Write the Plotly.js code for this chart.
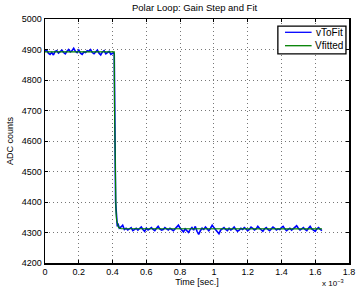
<!DOCTYPE html>
<html><head><meta charset="utf-8">
<script src="https://cdn.plot.ly/plotly-3.0.1.min.js"></script>
<style>html,body{margin:0;padding:0;background:#fff}#c{width:357px;height:289px}</style>
</head><body><div id="c"></div>
<script>
// time in units of 1e-3 s
const highStart = 0.0, lowStart = 0.45, dt = 0.01;
const highValues = [4894,4898,4888,4884,4890,4882,4894,4896,4888,4892,4898,4890,4886,4894,4900,4892,4896,4904,4894,4890,4898,4888,4884,4892,4890,4896,4894,4900,4890,4886,4894,4898,4888,4882,4892,4896,4886,4890,4894,4884,4888];
const stepTimes = [0.405,0.41,0.412,0.414,0.416,0.418,0.42,0.424,0.428,0.432,0.436,0.44];
const stepValues = [4889,4885,4690,4540,4480,4400,4385,4345,4320,4330,4316,4314];
const lowValues = [
4318,4324,4310,4314,4308,4312,4316,4306,4310,4314,
4308,4312,4318,4310,4304,4314,4308,4312,4316,4310,
4306,4314,4320,4312,4308,4310,4316,4312,4308,4314,
4310,4306,4312,4318,4324,4314,4308,4302,4312,4306,
4300,4310,4316,4308,4320,4304,4294,4306,4314,4310,
4318,4312,4306,4314,4324,4316,4308,4302,4296,4308,
4312,4316,4310,4306,4314,4308,4312,4318,4310,4304,
4308,4314,4310,4316,4312,4306,4310,4318,4314,4308,
4312,4320,4314,4308,4304,4312,4316,4310,4306,4312,
4318,4314,4308,4312,4310,4316,4320,4312,4306,4310,
4314,4308,4312,4318,4322,4314,4308,4312,4316,4310,
4306,4314,4320,4312,4308,4304,4312,4316,4310,4306];
const fitTimes = [0,0.41,0.412,0.414,0.416,0.418,0.42,0.424,0.428,0.434,0.44,0.45,1.64];
const fitValues = [4892,4892,4700,4560,4470,4410,4375,4340,4326,4318,4315,4313,4312];
const xTicks = [0,0.2,0.4,0.6,0.8,1,1.2,1.4,1.6,1.8];
const yTicks = [4200,4300,4400,4500,4600,4700,4800,4900,5000];
const seriesNames = ['vToFit','Vfitted'];
const seriesColors = ['#0000ff','#008000'];

const tX = [], tY = [];
highValues.forEach((v,i)=>{tX.push(+(highStart+i*dt).toFixed(4)); tY.push(v);});
stepTimes.forEach((t,i)=>{tX.push(t); tY.push(stepValues[i]);});
lowValues.forEach((v,i)=>{tX.push(+(lowStart+i*dt).toFixed(4)); tY.push(v);});

const FAM = 'Liberation Sans, Arial, sans-serif';
const font = {family:FAM, size:9, color:'#000'};
const axisBase = {showline:true, linecolor:'#000', linewidth:1.5, mirror:'ticks', ticks:'inside', ticklen:3, tickcolor:'#000',
  showgrid:true, gridcolor:'#777', griddash:'1px,3px', gridwidth:1, zeroline:false, tickfont:font};

// manual legend (MATLAB-style compact box)
const legRows = [0.9455, 0.8906];
const shapes = [{type:'rect', xref:'paper', yref:'paper', x0:0.766, x1:0.990, y0:0.857, y1:0.971,
  fillcolor:'#fff', line:{color:'#000', width:1.3}, layer:'above'}];
const annotations = [];
seriesNames.forEach((n,i)=>{
  shapes.push({type:'line', xref:'paper', yref:'paper', x0:0.7895, x1:0.877, y0:legRows[i], y1:legRows[i],
    line:{color:seriesColors[i], width:1.3}, layer:'above'});
  annotations.push({xref:'paper', yref:'paper', x:0.986, y:legRows[i], xanchor:'right', yanchor:'middle', showarrow:false,
    text:n, font:{family:FAM, size:10, color:'#000'}});
});
annotations.push({xref:'paper', yref:'paper', x:0.99, y:-0.11, xanchor:'right', yanchor:'bottom', showarrow:false,
  text:'x 10<sup>−3</sup>', font:{family:FAM, size:8, color:'#000'}});

Plotly.newPlot('c', [
  {x:tX, y:tY, type:'scatter', mode:'lines', name:seriesNames[0], line:{color:seriesColors[0], width:1.6}},
  {x:fitTimes, y:fitValues, type:'scatter', mode:'lines', name:seriesNames[1], line:{color:seriesColors[1], width:1.2}}
], {
  width:357, height:289, margin:{l:45, r:8, t:19, b:26}, paper_bgcolor:'#fff', plot_bgcolor:'#fff', font:font,
  title:{text:'Polar Loop: Gain Step and Fit', font:{family:FAM, size:9.5, color:'#000'}, x:0.545, xanchor:'center', y:0.985, yanchor:'top'},
  xaxis:Object.assign({}, axisBase, {range:[0,1.8], tickvals:xTicks, ticktext:xTicks.map(String),
    title:{text:'Time [sec.]', font:{family:FAM, size:9, color:'#000'}, standoff:2}}),
  yaxis:Object.assign({}, axisBase, {range:[4200,5000], tickvals:yTicks, ticktext:yTicks.map(String),
    title:{text:'ADC counts', font:{family:FAM, size:9, color:'#000'}, standoff:6}}),
  showlegend:false,
  shapes:shapes,
  annotations:annotations
}, {displayModeBar:false, staticPlot:true});
</script></body></html>
